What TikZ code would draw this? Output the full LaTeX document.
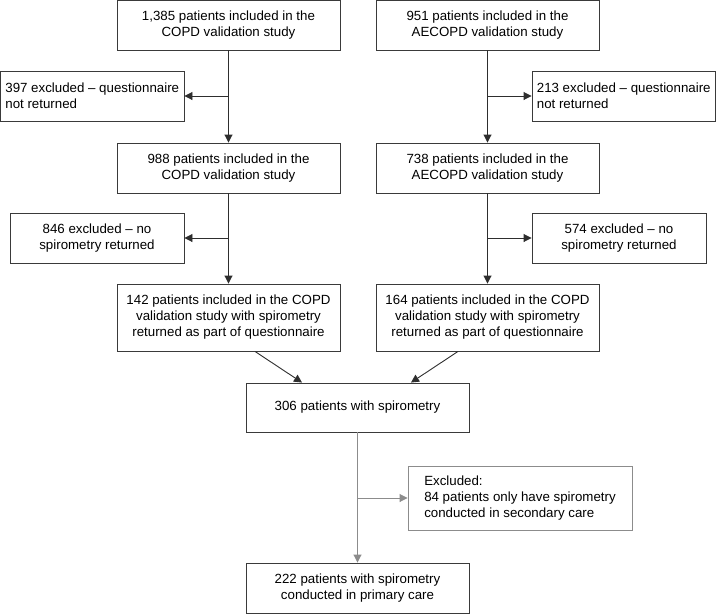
\documentclass[tikz,border=0pt]{standalone}
\usepackage{fontspec}
\setmainfont{Liberation Sans}
\usetikzlibrary{arrows.meta}
\definecolor{boxline}{HTML}{3A3A3A}
\definecolor{darkline}{HTML}{2E2E2E}
\definecolor{grayline}{HTML}{8C8C8C}
\begin{document}
\begin{tikzpicture}[x=1pt,y=-1pt,
  every node/.style={font=\fontsize{13.3}{16}\selectfont},
  box/.style={draw=boxline, line width=0.9pt, inner sep=0pt, align=center},
  lbox/.style={draw=boxline, line width=0.9pt, inner sep=0pt, align=left},
  arr/.style={draw=darkline, line width=0.9pt, -{Triangle[length=8pt,width=8pt]}},
  garr/.style={draw=grayline, line width=0.9pt, -{Triangle[length=8pt,width=8pt]}}]
\useasboundingbox (0,0) rectangle (716,614);
% left column
\node[box, minimum width=223pt, minimum height=49.5pt] (b1) at (228.5,25.25) {1,385 patients included in the\\COPD validation study};
\node[lbox, minimum width=183.5pt, minimum height=50pt] (e1) at (92.25,96) {397 excluded -- questionnaire\\not returned};
\node[box, minimum width=223pt, minimum height=50pt] (b2) at (228.5,168) {988 patients included in the\\COPD validation study};
\node[box, minimum width=174pt, minimum height=50pt] (e2) at (97,238) {846 excluded -- no\\spirometry returned};
\node[box, minimum width=223pt, minimum height=67pt] (b3) at (228.5,317.5) {142 patients included in the COPD\\validation study with spirometry\\returned as part of questionnaire};
% right column
\node[box, minimum width=223pt, minimum height=49.5pt] (r1) at (487.5,25.25) {951 patients included in the\\AECOPD validation study};
\node[lbox, minimum width=183.5pt, minimum height=50pt] (re1) at (623.75,96) {213 excluded -- questionnaire\\not returned};
\node[box, minimum width=223pt, minimum height=50pt] (r2) at (487.5,168) {738 patients included in the\\AECOPD validation study};
\node[box, minimum width=174pt, minimum height=50pt] (re2) at (619,238) {574 excluded -- no\\spirometry returned};
\node[box, minimum width=223pt, minimum height=67pt] (r3) at (487.5,317.5) {164 patients included in the COPD\\validation study with spirometry\\returned as part of questionnaire};
% merged
\node[box, minimum width=223pt, minimum height=49pt] (m1) at (357.5,407.5) {306 patients with spirometry};
\node[lbox, draw=grayline, minimum width=224pt, minimum height=64pt] (ex) at (520,498) {Excluded:\\84 patients only have spirometry\\conducted in secondary care};
\node[box, minimum width=223pt, minimum height=50pt] (m2) at (357.5,588) {222 patients with spirometry\\conducted in primary care};
% connectors
\draw[arr] (b1.south) -- (b2.north);
\draw[arr] (b1.south |- e1.east) -- (e1.east);
\draw[arr] (b2.south) -- (b3.north);
\draw[arr] (b2.south |- e2.east) -- (e2.east);
\draw[arr] (r1.south) -- (r2.north);
\draw[arr] (r1.south |- re1.west) -- (re1.west);
\draw[arr] (r2.south) -- (r3.north);
\draw[arr] (r2.south |- re2.west) -- (re2.west);
\draw[arr] ([xshift=26.5pt]b3.south) -- ([xshift=-55.5pt]m1.north);
\draw[arr] ([xshift=-29.5pt]r3.south) -- ([xshift=53.5pt]m1.north);
\draw[garr] (m1.south) -- (m2.north);
\draw[garr] (m1.south |- ex.west) -- (ex.west);
\end{tikzpicture}
\end{document}
